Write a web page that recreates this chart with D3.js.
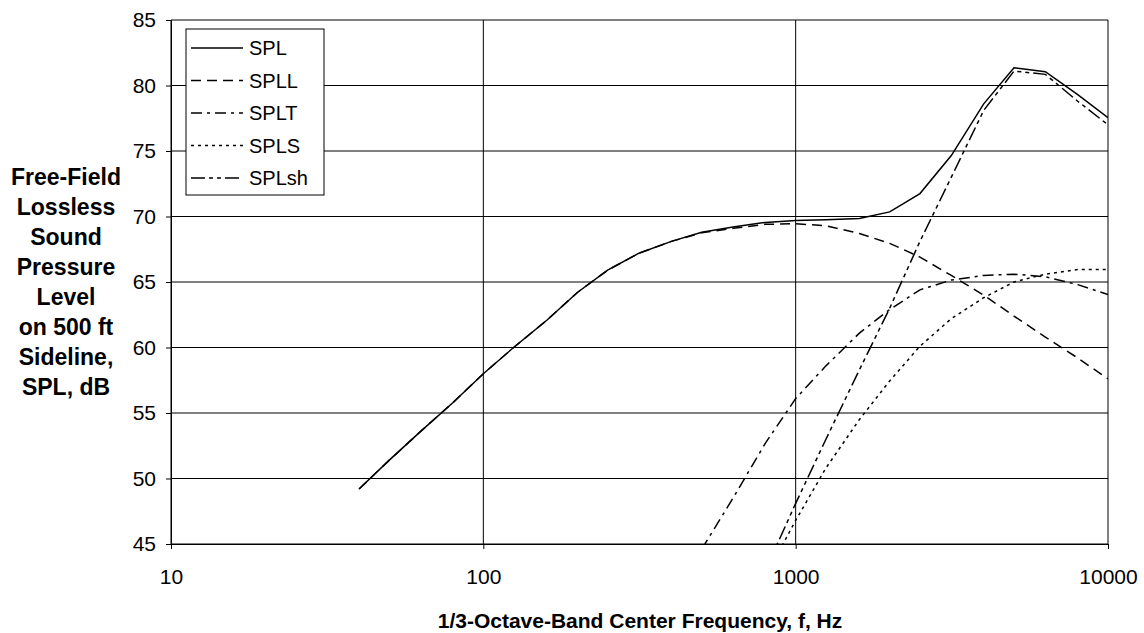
<!DOCTYPE html>
<html>
<head>
<meta charset="utf-8">
<script src="https://cdn.jsdelivr.net/npm/d3@7"></script>
<style>
  html, body { margin: 0; padding: 0; background: #fff; }
  svg { display: block; }
  text { font-family: "Liberation Sans", Arial, sans-serif; fill: #000; }
</style>
</head>
<body>
<svg id="chart" width="1144" height="633"></svg>
<script>
// 1/3-octave band centre frequencies, Hz
const bands = [40, 50, 63, 80, 100, 125, 160, 200, 250, 315, 400, 500, 630,
               800, 1000, 1250, 1600, 2000, 2500, 3150, 4000, 5000, 6300, 8000, 10000];

// Sound pressure levels per band, dB (null = below the plotted range)
const SPL   = [49.2, 51.4, 53.6, 55.8, 58.0, 60.0, 62.1, 64.2, 65.9, 67.2, 68.1, 68.8, 69.2,
               69.55, 69.7, 69.75, 69.85, 70.35, 71.75, 74.65, 78.6, 81.35, 81.05, 79.3, 77.55];
const SPLL  = [49.2, 51.4, 53.6, 55.8, 58.0, 60.0, 62.1, 64.2, 65.9, 67.2, 68.1, 68.75, 69.1,
               69.4, 69.45, 69.3, 68.7, 67.95, 66.9, 65.5, 64.0, 62.4, 60.8, 59.2, 57.6];
const SPLT  = [null, null, null, null, null, null, null, null, null, null, null, 44.6, 48.5,
               52.7, 56.1, 58.6, 61.1, 62.9, 64.4, 65.15, 65.5, 65.6, 65.4, 64.8, 64.05];
const SPLS  = [null, null, null, null, null, null, null, null, null, null, null, null, null,
               42.5, 46.8, 50.8, 54.5, 57.45, 60.1, 62.2, 63.8, 65.0, 65.6, 65.95, 65.95];
const SPLsh = [null, null, null, null, null, null, null, null, null, null, null, null, null,
               43.0, 48.1, 53.0, 58.3, 63.0, 68.1, 73.0, 78.1, 81.1, 80.85, 78.8, 77.0];

const seriesNames = ["SPL", "SPLL", "SPLT", "SPLS", "SPLsh"];
const seriesValues = [SPL, SPLL, SPLT, SPLS, SPLsh];
const dashes = [null, "10,6", "11,5,3,5", "3,4", "14,4,4,4,4,4"];

const xTicks = [10, 100, 1000, 10000];
const yTicks = [45, 50, 55, 60, 65, 70, 75, 80, 85];
const yTitleLines = ["Free-Field", "Lossless", "Sound", "Pressure", "Level",
                     "on 500 ft", "Sideline,", "SPL, dB"];
const xTitle = "1/3-Octave-Band Center Frequency, f, Hz";

const svg = d3.select("#chart");
const plot = { left: 171, right: 1108, top: 20, bottom: 544 };

const x = d3.scaleLog().domain([10, 10000]).range([plot.left, plot.right]);
const y = d3.scaleLinear().domain([45, 85]).range([plot.bottom, plot.top]);

svg.append("defs").append("clipPath").attr("id", "plotClip")
  .append("rect")
  .attr("x", plot.left).attr("y", plot.top)
  .attr("width", plot.right - plot.left).attr("height", plot.bottom - plot.top);

// grid
const grid = svg.append("g").attr("stroke", "#000").attr("stroke-width", 1);
grid.selectAll("line.h").data(yTicks).join("line")
  .attr("class", "h")
  .attr("x1", plot.left).attr("x2", plot.right)
  .attr("y1", d => y(d)).attr("y2", d => y(d));
grid.selectAll("line.v").data(xTicks).join("line")
  .attr("class", "v")
  .attr("x1", d => x(d)).attr("x2", d => x(d))
  .attr("y1", plot.top).attr("y2", plot.bottom);

// axes
const yAxis = d3.axisLeft(y).tickValues(yTicks).tickSize(5).tickPadding(10)
  .tickFormat(d3.format("d"));
const gy = svg.append("g").attr("transform", `translate(${plot.left},0)`).call(yAxis);
const xAxis = d3.axisBottom(x).tickValues(xTicks).tickSize(5).tickPadding(20)
  .tickFormat(d3.format("d"));
const gx = svg.append("g").attr("transform", `translate(0,${plot.bottom})`).call(xAxis);
[gy, gx].forEach(g => {
  g.select(".domain").attr("stroke", "#000").attr("stroke-width", 1);
  g.selectAll(".tick line").attr("stroke", "#000");
  g.selectAll(".tick text").style("font-size", "21px")
    .style("font-family", "'Liberation Sans', Arial, sans-serif").attr("fill", "#000");
});

// curves
const line = d3.line()
  .defined(d => d.v !== null)
  .x(d => x(d.f))
  .y(d => y(d.v));

const curves = svg.append("g").attr("clip-path", "url(#plotClip)");
seriesValues.forEach((vals, i) => {
  const pts = bands.map((f, j) => ({ f, v: vals[j] }));
  curves.append("path")
    .datum(pts)
    .attr("d", line)
    .attr("fill", "none")
    .attr("stroke", "#000")
    .attr("stroke-width", 1.5)
    .attr("stroke-dasharray", dashes[i]);
});

// legend
const legend = svg.append("g").attr("transform", "translate(186,29)");
legend.append("rect")
  .attr("width", 138).attr("height", 166)
  .attr("fill", "#fff").attr("stroke", "#000").attr("stroke-width", 1);
seriesNames.forEach((name, i) => {
  const cy = 19 + i * 32.5;
  legend.append("line")
    .attr("x1", 5).attr("x2", 57).attr("y1", cy).attr("y2", cy)
    .attr("stroke", "#000").attr("stroke-width", 1.5)
    .attr("stroke-dasharray", dashes[i]);
  legend.append("text")
    .attr("x", 63).attr("y", cy).attr("dy", "0.36em")
    .style("font-size", "20px").text(name);
});

// axis titles
const yt = svg.append("text")
  .attr("text-anchor", "middle")
  .style("font-size", "23px").style("font-weight", "bold");
yTitleLines.forEach((t, i) => {
  yt.append("tspan").attr("x", 66).attr("y", 177 + i * 29.9).attr("dy", "0.36em").text(t);
});

svg.append("text")
  .attr("x", 640).attr("y", 620).attr("dy", "0.36em")
  .attr("text-anchor", "middle")
  .style("font-size", "21px").style("font-weight", "bold")
  .text(xTitle);
</script>
</body>
</html>
